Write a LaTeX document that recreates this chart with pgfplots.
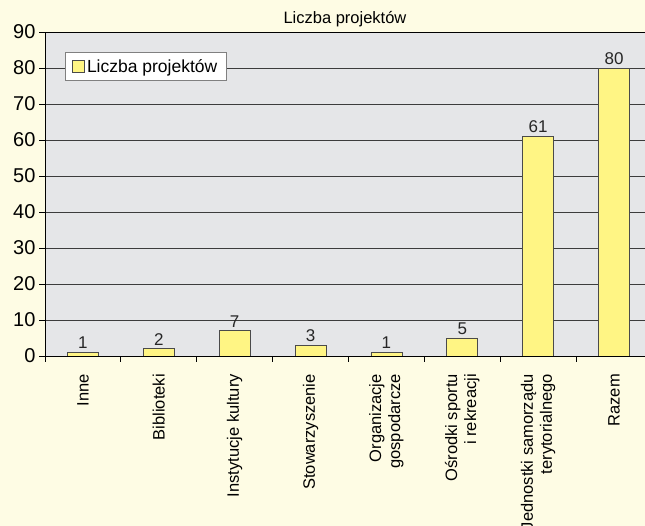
\documentclass[border=0pt]{standalone}
\usepackage{pgfplots}
\pgfplotsset{compat=1.18}
\usetikzlibrary{backgrounds}
\usepackage{fontspec}
\setmainfont{Liberation Sans}
\definecolor{pagebg}{HTML}{FEFCE4}
\definecolor{plotbg}{HTML}{E5E6E8}
\definecolor{barfill}{HTML}{FFF584}
\definecolor{bardraw}{HTML}{4A4A4A}
\definecolor{gridc}{HTML}{3C3C3C}
\begin{document}
\begin{tikzpicture}
\pgfinterruptboundingbox
\begin{axis}[
  scale only axis, width=607pt, height=324pt,
  xmin=-0.5, xmax=7.5, ymin=0, ymax=90,
  axis background/.style={fill=plotbg},
  axis line style={black, line width=0.8pt},
  ytick={0,10,...,90},
  ymajorgrids, grid style={gridc, line width=0.7pt},
  xtick={0,...,7},
  xticklabels={Inne,Biblioteki,Instytucje kultury,Stowarzyszenie,{Organizacje\\gospodarcze},{Ośrodki sportu\\i rekreacji},{Jednostki samorządu\\terytorialnego},Razem},
  x tick label style={rotate=90, anchor=east, align=right, font=\fontsize{16.5}{19}\selectfont, inner sep=1pt},
  xticklabel shift=11pt,
  major x tick style={draw=none},
  minor xtick={-0.5,0.5,...,7.5},
  minor tick length=6pt,
  major tick length=6pt,
  tick align=outside,
  xtick pos=bottom, ytick pos=left,
  tick style={black, line width=0.8pt},
  y tick label style={font=\fontsize{20}{22}\selectfont},
  /pgf/number format/assume math mode=true,
  title={Liczba projektów},
  title style={font=\fontsize{16.5}{19}\selectfont, yshift=-4pt, xshift=-3.5pt},
  legend style={at={(0,1)}, anchor=north west, xshift=20pt, yshift=-20pt, fill=white, draw=gray, font=\fontsize{17.5}{20}\selectfont, inner xsep=7pt, inner ysep=5pt},
  legend image code/.code={\draw[fill=barfill, draw=bardraw, line width=0.8pt] (1pt,-6pt) rectangle (13pt,6pt);},
  legend cell align=left,
  nodes near coords,
  every node near coord/.append style={font=\fontsize{17}{20}\selectfont, text=black!85},
]
\addplot[ybar, bar width=31pt, fill=barfill, draw=bardraw, line width=0.8pt] coordinates {
(0,1) (1,2) (2,7) (3,3) (4,1) (5,5) (6,61) (7,80)};
\addlegendentry{Liczba projektów}
\coordinate (O) at (axis cs:-0.5,0);
\end{axis}
\endpgfinterruptboundingbox
\path[use as bounding box] ([shift={(-45pt,-170pt)}]O) rectangle ++(645pt,526pt);
\begin{scope}[on background layer]
\fill[pagebg] ([shift={(-45pt,-170pt)}]O) rectangle ++(645pt,526pt);
\end{scope}
\end{tikzpicture}
\end{document}
